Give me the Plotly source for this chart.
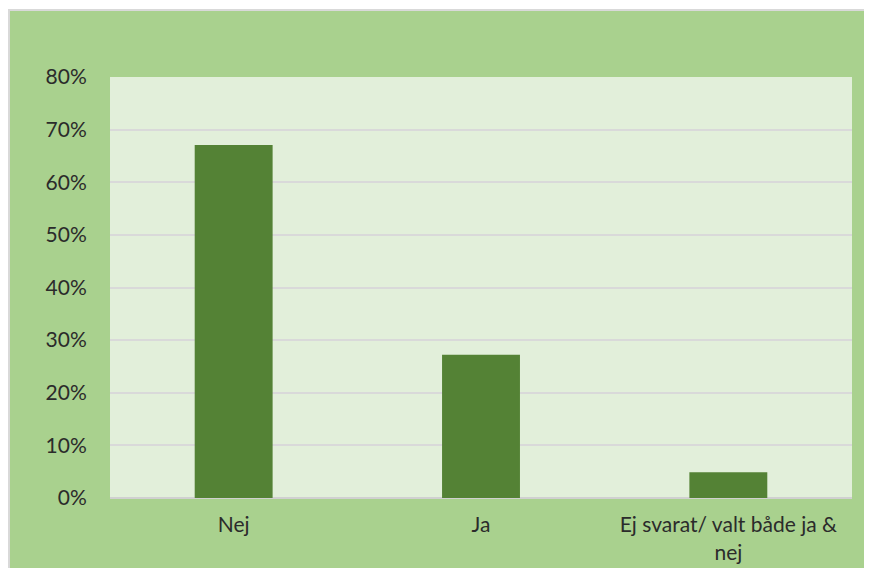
import plotly.graph_objects as go

# svar på frågan
categories = ["Nej", "Ja", "Ej svarat/ valt både ja &<br>nej"]
shares = [0.671, 0.272, 0.049]
y_ticks = [0, 0.1, 0.2, 0.3, 0.4, 0.5, 0.6, 0.7, 0.8]
y_labels = ["0%", "10%", "20%", "30%", "40%", "50%", "60%", "70%", "80%"]

# the page puts the figure 8px in from the top left corner;
# size kept inside the window so no scrollbars appear
W, H = 856, 560
L, R, T, B = 102, 12, 69, 70

fig = go.Figure(go.Bar(x=categories, y=shares, marker=dict(color="#548235", line=dict(width=0))))

fig.update_layout(
    width=W, height=H,
    margin=dict(l=L, r=R, t=T, b=B, autoexpand=False),
    paper_bgcolor="#A9D18E",
    plot_bgcolor="#E2EFDA",
    bargap=0.685,
    showlegend=False,
    font=dict(family="Lato, Open Sans, sans-serif", size=21, color="#2b2b2b"),
)
fig.update_yaxes(range=[0, 0.8], tickvals=y_ticks, ticktext=y_labels, automargin=False,
                 showgrid=True, gridcolor="#D9D9D9", gridwidth=1.5,
                 zeroline=True, zerolinecolor="#D0D0D0", zerolinewidth=2,
                 ticks="outside", ticklen=0, ticklabelstandoff=18)
fig.update_xaxes(showgrid=False, ticks="outside", ticklen=0, ticklabelstandoff=8,
                 tickfont=dict(size=21), automargin=False)

# grey frame round the chart, in pixels -> paper units
pw, ph = W - L - R, H - T - B
def px_x(p):
    return (p - L) / pw
def px_y(p):
    return (H - B - p) / ph

fig.add_shape(type="rect", xref="paper", yref="paper", x0=px_x(0), x1=px_x(W), y0=px_y(1), y1=px_y(0),
              fillcolor="white", line=dict(width=0))
fig.add_shape(type="line", xref="paper", yref="paper", x0=px_x(1), x1=px_x(1), y0=px_y(H), y1=px_y(2),
              line=dict(color="#D9D9D9", width=2))
fig.add_shape(type="line", xref="paper", yref="paper", x0=px_x(0), x1=px_x(W), y0=px_y(2), y1=px_y(2),
              line=dict(color="#D9D9D9", width=2))

fig.write_html("out.html")
